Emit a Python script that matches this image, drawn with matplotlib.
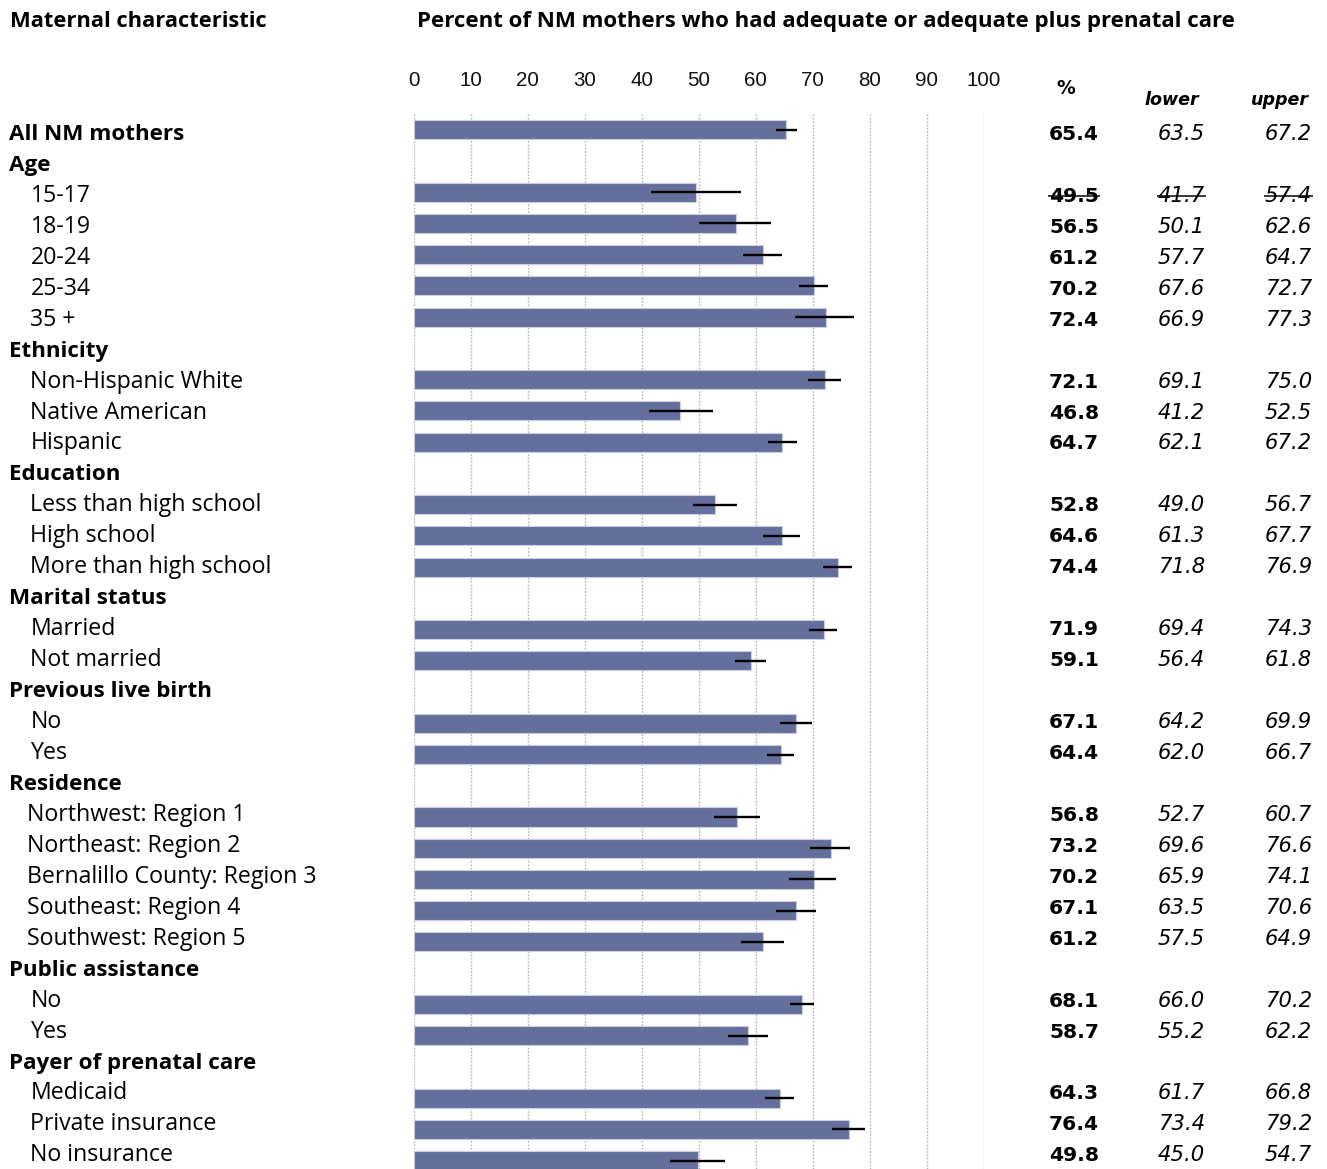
import matplotlib
matplotlib.use("Agg")
import matplotlib.pyplot as plt
from matplotlib.lines import Line2D

# ---- data -------------------------------------------------------------
row_labels = [
    "All NM mothers",
    "Age", "15-17", "18-19", "20-24", "25-34", "35 +",
    "Ethnicity", "Non-Hispanic White", "Native American", "Hispanic",
    "Education", "Less than high school", "High school", "More than high school",
    "Marital status", "Married", "Not married",
    "Previous live birth", "No", "Yes",
    "Residence", "Northwest: Region 1", "Northeast: Region 2",
    "Bernalillo County: Region 3", "Southeast: Region 4", "Southwest: Region 5",
    "Public assistance", "No", "Yes",
    "Payer of prenatal care", "Medicaid", "Private insurance", "No insurance",
]
# 'total' = bold row with a bar, 'head' = group heading, 'item' / 'region' = sub rows
row_kind = [
    "total",
    "head", "item", "item", "item", "item", "item",
    "head", "item", "item", "item",
    "head", "item", "item", "item",
    "head", "item", "item",
    "head", "item", "item",
    "head", "region", "region", "region", "region", "region",
    "head", "item", "item",
    "head", "item", "item", "item",
]
pct = [
    65.4,
    None, 49.5, 56.5, 61.2, 70.2, 72.4,
    None, 72.1, 46.8, 64.7,
    None, 52.8, 64.6, 74.4,
    None, 71.9, 59.1,
    None, 67.1, 64.4,
    None, 56.8, 73.2, 70.2, 67.1, 61.2,
    None, 68.1, 58.7,
    None, 64.3, 76.4, 49.8,
]
lower = [
    63.5,
    None, 41.7, 50.1, 57.7, 67.6, 66.9,
    None, 69.1, 41.2, 62.1,
    None, 49.0, 61.3, 71.8,
    None, 69.4, 56.4,
    None, 64.2, 62.0,
    None, 52.7, 69.6, 65.9, 63.5, 57.5,
    None, 66.0, 55.2,
    None, 61.7, 73.4, 45.0,
]
upper = [
    67.2,
    None, 57.4, 62.6, 64.7, 72.7, 77.3,
    None, 75.0, 52.5, 67.2,
    None, 56.7, 67.7, 76.9,
    None, 74.3, 61.8,
    None, 69.9, 66.7,
    None, 60.7, 76.6, 74.1, 70.6, 64.9,
    None, 70.2, 62.2,
    None, 66.8, 79.2, 54.7,
]
# estimates flagged as statistically unreliable (shown struck through)
unreliable_rows = [2]
x_ticks = [0, 10, 20, 30, 40, 50, 60, 70, 80, 90, 100]

# ---- figure -----------------------------------------------------------
W, H = 1327, 1169
fig = plt.figure(figsize=(W / 100, H / 100), dpi=100)
fig.patch.set_facecolor("white")

LABEL_FONT = "Open Sans"
NUM_FONT = "DejaVu Sans"
TICK_FONT = "Liberation Sans"


def fx(px):
    return px / W


def fy(py):
    return 1 - py / H


# bar panel: 0..100 spans pixels 413.7..983.7; row centres 129.7 + 31.24*i
ax_left, ax_right = 413.7, 983.7
ax_top, ax_bottom = 113.0, 1169.0
row_step, row0 = 31.24, 129.7
ax = fig.add_axes([fx(ax_left), 0, fx(ax_right) - fx(ax_left), fy(ax_top)])
ax.set_xlim(0, 100)
ax.set_ylim((ax_bottom - row0) / row_step, (ax_top - row0) / row_step)

bar_rows = [i for i, v in enumerate(pct) if v is not None]
bar_vals = [pct[i] for i in bar_rows]
ax.barh(bar_rows, bar_vals, height=0.61, color="#646F9C",
        edgecolor="#c9cde0", linewidth=0.8, zorder=2)
for i in bar_rows:
    ax.plot([lower[i], upper[i]], [i, i], color="black", lw=1.7,
            solid_capstyle="butt", zorder=3)

for t in x_ticks:
    ax.axvline(t, color="#b3b3b3", lw=1.0, ls=(0, (1.2, 1.2)), zorder=1)

for s in ax.spines.values():
    s.set_visible(False)
ax.xaxis.tick_top()
ax.set_xticks(x_ticks)
ax.set_xticklabels([str(t) for t in x_ticks], fontfamily=TICK_FONT,
                   fontsize=14.8, color="#111111")
ax.tick_params(axis="x", length=0, pad=16.5)
ax.set_yticks([])

# ---- headings ---------------------------------------------------------
fig.text(fx(10), fy(27), "Maternal characteristic", fontfamily=LABEL_FONT,
         fontweight="bold", fontsize=15.75, va="baseline", ha="left")
fig.text(fx(417), fy(27),
         "Percent of NM mothers who had adequate or adequate plus prenatal care",
         fontfamily=LABEL_FONT, fontweight="bold", fontsize=16.0,
         va="baseline", ha="left")
fig.text(fx(1066), fy(94), "%", fontfamily=NUM_FONT, fontweight="bold",
         fontsize=13.5, va="baseline", ha="center")
fig.text(fx(1199), fy(105), "lower", fontfamily=NUM_FONT, fontweight="bold",
         fontstyle="italic", fontsize=12.6, va="baseline", ha="right")
fig.text(fx(1309), fy(105), "upper", fontfamily=NUM_FONT, fontweight="bold",
         fontstyle="italic", fontsize=12.6, va="baseline", ha="right")

# ---- row labels and value table --------------------------------------
text_step, text0 = 30.95, 140.0
indent = {"total": 9, "head": 9, "item": 30.5, "region": 27}
struck = []
for i, (lab, kind) in enumerate(zip(row_labels, row_kind)):
    base = text0 + text_step * i
    bold = kind in ("total", "head")
    fig.text(fx(indent[kind]), fy(base), lab, fontfamily=LABEL_FONT,
             fontweight="bold" if bold else "normal",
             fontsize=16.1 if bold else 16.7,
             va="baseline", ha="left")
    if pct[i] is None:
        continue
    t1 = fig.text(fx(1099), fy(base), f"{pct[i]:.1f}", fontfamily=NUM_FONT,
                  fontweight="bold", fontsize=14.6, va="baseline", ha="right")
    t2 = fig.text(fx(1205), fy(base), f"{lower[i]:.1f}", fontfamily=NUM_FONT,
                  fontstyle="italic", fontsize=15.2, va="baseline", ha="right")
    t3 = fig.text(fx(1312), fy(base), f"{upper[i]:.1f}", fontfamily=NUM_FONT,
                  fontstyle="italic", fontsize=15.2, va="baseline", ha="right")
    if i in unreliable_rows:
        struck.append((base, [t1, t2, t3]))

# strike-through for unreliable estimates
fig.canvas.draw()
renderer = fig.canvas.get_renderer()
for base, texts in struck:
    y = fy(base - 6)
    for t in texts:
        bb = t.get_window_extent(renderer)
        fig.add_artist(Line2D([bb.x0 / W, bb.x1 / W], [y, y],
                              transform=fig.transFigure, color="#3a3a3a",
                              lw=1.4))

fig.savefig("out.png", dpi=100)
